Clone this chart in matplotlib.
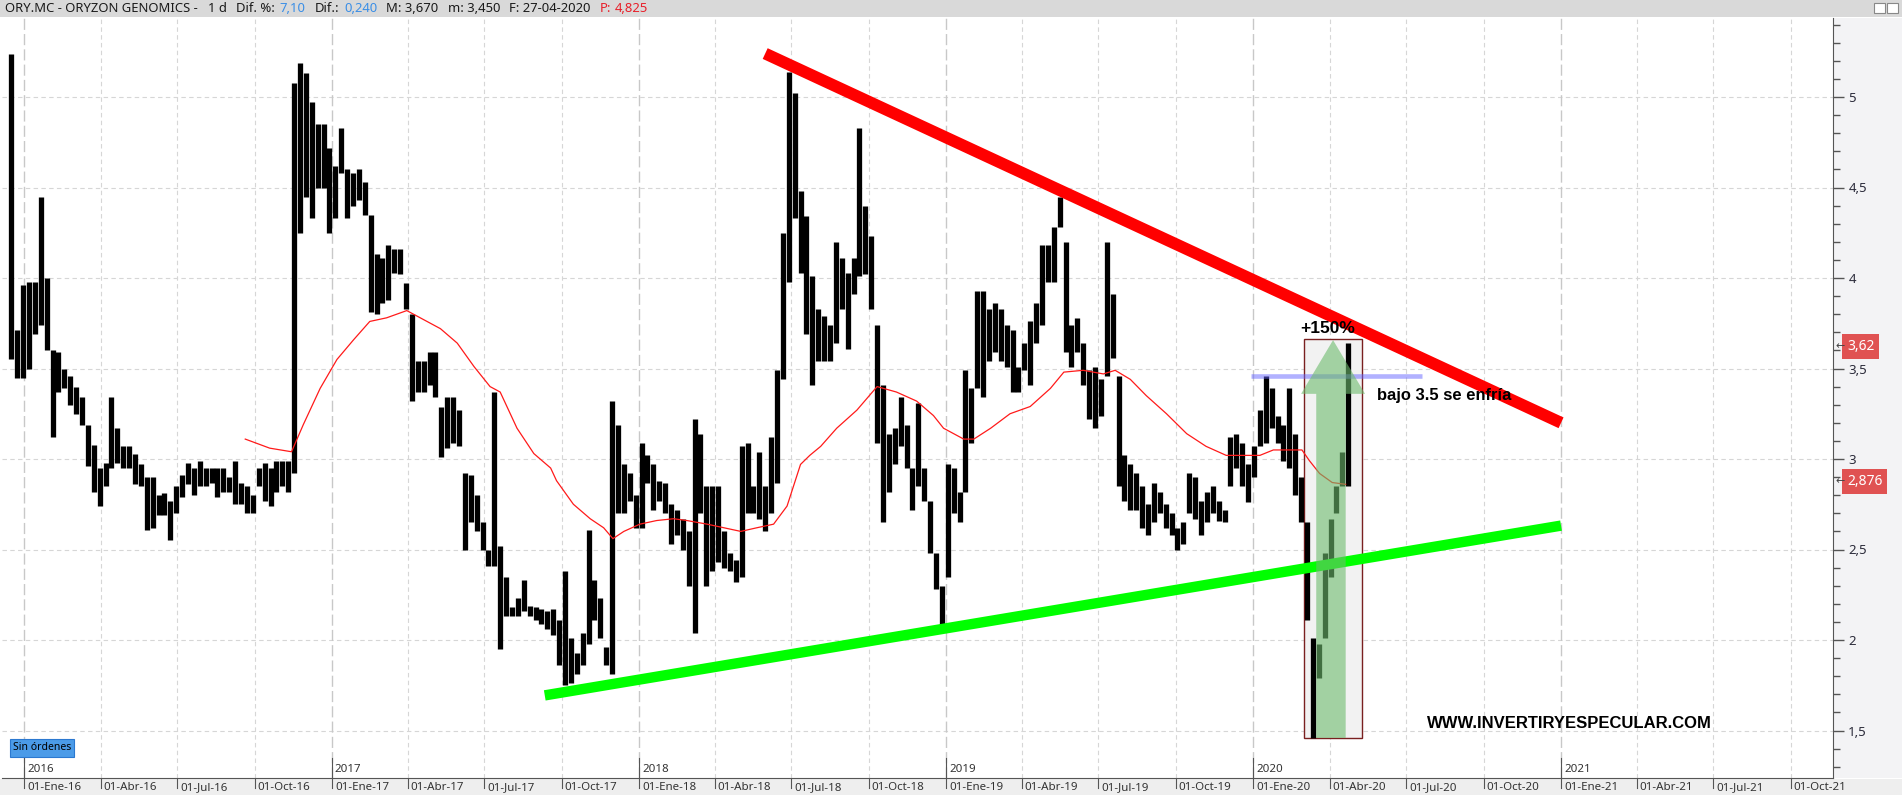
import numpy as np
import pandas as pd
import matplotlib
matplotlib.use("Agg")
import matplotlib.pyplot as plt
import matplotlib.dates as mdates
import matplotlib.transforms as mtransforms
from matplotlib.patches import Rectangle, Polygon

W, H = 1902, 795

# weekly high / low of ORY.MC, one entry per week starting 2015-12-14
first_week = "2015-12-14"
week_high = [
    5.24, 3.71, 3.96, 3.98, 3.98, 4.45, 4.00, 3.60, 3.59, 3.50,
    3.46, 3.40, 3.34, 3.19, 3.08, 2.95, 2.98, 3.34, 3.17, 3.07,
    3.07, 3.03, 2.97, 2.90, 2.90, 2.80, 2.81, 2.77, 2.85, 2.91,
    2.98, 2.95, 2.99, 2.95, 2.95, 2.95, 2.95, 2.90, 2.99, 2.87,
    2.85, 2.80, 2.95, 2.98, 2.95, 2.99, 2.99, 2.99, 5.08, 5.19,
    5.13, 4.97, 4.85, 4.85, 4.72, 4.62, 4.83, 4.60, 4.58, 4.60,
    4.53, 4.35, 4.13, 4.11, 4.18, 4.16, 4.16, 3.97, 3.80, 3.54,
    3.54, 3.59, 3.59, 3.29, 3.34, 3.34, 3.27, 2.92, 2.91, 2.80,
    2.65, 2.50, 3.37, 2.52, 2.35, 2.18, 2.23, 2.33, 2.19, 2.18,
    2.17, 2.16, 2.17, 2.11, 2.38, 2.01, 1.93, 2.04, 2.61, 2.33,
    2.23, 1.96, 3.32, 3.19, 2.97, 2.92, 2.80, 3.09, 3.02, 2.97,
    2.88, 2.87, 2.75, 2.72, 2.67, 2.60, 3.22, 3.14, 2.85, 2.85,
    2.85, 2.60, 2.48, 2.44, 3.07, 3.09, 2.85, 3.04, 2.85, 3.12,
    3.49, 4.25, 5.14, 5.02, 4.48, 4.34, 4.01, 3.83, 3.79, 3.74,
    4.20, 4.11, 4.03, 4.11, 4.83, 4.40, 4.23, 3.74, 3.41, 3.14,
    3.17, 3.34, 3.19, 2.95, 3.31, 2.95, 2.77, 2.48, 2.30, 2.97,
    2.95, 2.82, 3.49, 3.39, 3.93, 3.93, 3.83, 3.86, 3.83, 3.74,
    3.71, 3.51, 3.64, 3.76, 3.86, 4.18, 4.18, 4.28, 4.45, 4.20,
    3.74, 3.78, 3.64, 3.49, 3.51, 3.44, 4.20, 3.91, 3.46, 3.02,
    2.97, 2.92, 2.85, 2.75, 2.87, 2.82, 2.75, 2.70, 2.62, 2.65,
    2.92, 2.90, 2.77, 2.82, 2.85, 2.77, 2.72, 3.12, 3.14, 3.09,
    2.97, 3.07, 3.27, 3.46, 3.39, 3.24, 3.19, 3.39, 3.14, 2.90,
    2.65, 2.01, 1.98, 2.48, 2.67, 2.85, 3.04, 3.64,
]
week_low = [
    3.55, 3.45, 3.45, 3.50, 3.69, 3.74, 3.60, 3.12, 3.37, 3.39,
    3.30, 3.25, 3.19, 2.96, 2.82, 2.74, 2.85, 2.95, 2.98, 2.95,
    2.95, 2.86, 2.85, 2.61, 2.62, 2.69, 2.69, 2.55, 2.70, 2.79,
    2.86, 2.80, 2.85, 2.85, 2.87, 2.79, 2.82, 2.82, 2.75, 2.75,
    2.70, 2.70, 2.85, 2.77, 2.74, 2.82, 2.85, 2.82, 2.92, 4.25,
    4.45, 4.33, 4.50, 4.50, 4.25, 4.33, 4.58, 4.33, 4.40, 4.43,
    4.35, 3.81, 3.80, 3.86, 3.88, 4.03, 4.02, 3.83, 3.32, 3.37,
    3.37, 3.41, 3.34, 3.01, 3.06, 3.09, 3.07, 2.50, 2.65, 2.60,
    2.50, 2.41, 2.41, 1.95, 2.13, 2.13, 2.13, 2.16, 2.13, 2.11,
    2.09, 2.06, 2.03, 1.86, 1.75, 1.76, 1.81, 1.86, 1.98, 2.11,
    2.01, 1.86, 1.81, 2.70, 2.70, 2.77, 2.62, 2.62, 2.87, 2.72,
    2.77, 2.70, 2.53, 2.58, 2.50, 2.30, 2.04, 2.70, 2.30, 2.38,
    2.43, 2.40, 2.38, 2.32, 2.35, 2.70, 2.70, 2.67, 2.60, 2.70,
    2.87, 3.44, 3.98, 4.33, 4.03, 3.69, 3.41, 3.54, 3.54, 3.54,
    3.64, 3.83, 3.61, 3.91, 4.01, 4.02, 3.83, 3.09, 2.65, 2.82,
    2.97, 3.07, 2.95, 2.72, 2.85, 2.77, 2.48, 2.28, 2.08, 2.35,
    2.70, 2.65, 2.82, 3.09, 3.39, 3.34, 3.54, 3.59, 3.54, 3.51,
    3.37, 3.37, 3.49, 3.41, 3.64, 3.74, 3.98, 3.98, 4.28, 3.59,
    3.51, 3.59, 3.41, 3.22, 3.17, 3.24, 3.46, 3.56, 2.85, 2.77,
    2.72, 2.72, 2.62, 2.58, 2.65, 2.70, 2.62, 2.58, 2.50, 2.53,
    2.70, 2.67, 2.58, 2.65, 2.70, 2.66, 2.65, 2.85, 2.95, 2.85,
    2.76, 2.90, 3.07, 3.09, 3.17, 3.09, 2.99, 2.95, 2.80, 2.65,
    2.11, 1.46, 1.79, 2.01, 2.35, 2.70, 2.85, 2.85,
]

# moving average (red thin line): days after 2016-01-01 and value
ma_day = [263, 292, 318, 332, 352, 372, 392, 411, 431, 455, 475, 495, 515,
          535, 554, 566, 586, 606, 626, 633, 653, 673, 689, 700, 713, 732,
          752, 772, 788, 812, 832, 852, 871, 891, 907, 923, 934, 947, 966,
          990, 1014, 1037, 1061, 1081, 1093, 1117, 1129, 1149, 1172, 1196,
          1220, 1236, 1259, 1283, 1297, 1315, 1334, 1358, 1382, 1405, 1429,
          1453, 1469, 1485, 1501, 1519, 1528, 1540, 1555, 1571]
ma_value = [3.11, 3.06, 3.04, 3.19, 3.39, 3.55, 3.66, 3.76, 3.78, 3.82, 3.77,
            3.72, 3.64, 3.51, 3.40, 3.37, 3.17, 3.03, 2.95, 2.88, 2.75, 2.67,
            2.62, 2.56, 2.60, 2.64, 2.66, 2.67, 2.66, 2.64, 2.62, 2.60, 2.62,
            2.64, 2.74, 2.97, 3.02, 3.07, 3.17, 3.27, 3.40, 3.37, 3.32, 3.24,
            3.17, 3.11, 3.11, 3.17, 3.25, 3.29, 3.39, 3.48, 3.49, 3.47, 3.49,
            3.44, 3.35, 3.25, 3.14, 3.07, 3.02, 3.02, 3.02, 3.05, 3.05, 3.05,
            2.99, 2.92, 2.87, 2.86]

# drawn trend lines and marks
resist_dates = ["2018-05-31", "2021-01-01"]
resist_values = [5.24, 3.20]
support_dates = ["2017-09-11", "2021-01-01"]
support_values = [1.694, 2.632]
level_dates = ["2019-12-29", "2020-07-20"]
level_value = 3.46
last_price = 3.62
ma_last = 2.876

y_ticks = [1.5, 2, 2.5, 3, 3.5, 4, 4.5, 5]
month_es = {1: "Ene", 4: "Abr", 7: "Jul", 10: "Oct"}

plt.rcParams["font.family"] = ["Noto Sans", "DejaVu Sans"]

fig = plt.figure(figsize=(W / 100, H / 100), dpi=100)
fig.patch.set_facecolor("white")


def fx(px):
    return px / W


def fy(py):
    return 1 - py / H


ax_left, ax_right, ax_top, ax_bot = 2, 1833, 18, 778
ax = fig.add_axes([fx(ax_left), fy(ax_bot), fx(ax_right - ax_left), (ax_bot - ax_top) / H])
ax.set_facecolor("white")

base = mdates.date2num(pd.Timestamp("2016-01-01"))
px_per_day = 0.8413
ax.set_xlim(base - (24 - ax_left) / px_per_day, base + (ax_right - 24) / px_per_day)
ax.set_ylim(5 - (ax_bot - 97) / 181.0, 5 + (97 - ax_top) / 181.0)

# background panels (behind the axes)
fig.patches.append(Rectangle((fx(ax_right), fy(ax_bot)), 1 - fx(ax_right), (ax_bot - ax_top) / H,
                             transform=fig.transFigure, facecolor="#f3f3f5", edgecolor="none",
                             zorder=-2))
fig.patches.append(Rectangle((0, 0), 1, fy(ax_bot + 1), transform=fig.transFigure,
                             facecolor="#eeeeee", edgecolor="none", zorder=-2))
fig.patches.append(Rectangle((0, fy(17)), 1, 17 / H, transform=fig.transFigure,
                             facecolor="#d9d9d9", edgecolor="none", zorder=-2))

# grid
for v in y_ticks:
    ax.axhline(v, color="#d6d6d6", lw=0.8, ls=(0, (4, 3)), zorder=0.5)
quarters = pd.date_range("2016-01-01", "2021-10-01", freq="QS")
for q in quarters:
    if q.month == 1:
        ax.axvline(q, color="#c8c8c8", lw=1.0, ls=(0, (8, 3)), zorder=0.5)
    else:
        ax.axvline(q, color="#d6d6d6", lw=0.8, ls=(0, (4, 3)), zorder=0.5)

# study rectangle behind candles
rect_d0 = mdates.date2num(pd.Timestamp("2020-03-02"))
rect_d1 = mdates.date2num(pd.Timestamp("2020-05-09"))
ax.add_patch(Rectangle((rect_d0, 1.459), rect_d1 - rect_d0, 3.662 - 1.459,
                       facecolor="#f2f2f2", edgecolor="#7a2020", lw=1.0, zorder=1))

# weekly candles
week_x = pd.date_range(first_week, periods=len(week_high), freq="7D") + pd.Timedelta(days=3)
ax.vlines(week_x, week_low, week_high, colors="black", lw=3.8, zorder=2)

# moving average
ma_x = pd.Timestamp("2016-01-01") + pd.to_timedelta(ma_day, unit="D")
ax.plot(ma_x, ma_value, color="#ff1a1a", lw=0.9, zorder=3)

# trend lines
ax.plot(pd.to_datetime(resist_dates), resist_values, color="#ff0000", lw=8.5,
        solid_capstyle="butt", zorder=4)
ax.plot(pd.to_datetime(support_dates), support_values, color="#00ff00", lw=7.5,
        solid_capstyle="butt", zorder=4)
ax.plot(pd.to_datetime(level_dates), [level_value, level_value], color="#6464ff",
        alpha=0.5, lw=3.3, solid_capstyle="butt", zorder=5)

# green arrow
s0 = mdates.date2num(pd.Timestamp("2020-03-16"))
s1 = mdates.date2num(pd.Timestamp("2020-04-20"))
h0 = mdates.date2num(pd.Timestamp("2020-02-27"))
h1 = mdates.date2num(pd.Timestamp("2020-05-13"))
arrow_pts = [(s0, 1.459), (s1, 1.459), (s1, 3.36), (h1, 3.36), ((h0 + h1) / 2, 3.657),
             (h0, 3.36), (s0, 3.36)]
ax.add_patch(Polygon(arrow_pts, closed=True, facecolor="#6dbb6d", alpha=0.6,
                     edgecolor="none", zorder=5))

# annotations
bold = dict(family=["Liberation Sans", "DejaVu Sans"], fontweight="bold", color="black", zorder=6)
ax.text(pd.Timestamp("2020-03-30"), 3.72, "+150%", ha="center", va="center", fontsize=12.5, **bold)
ax.text(pd.Timestamp("2020-05-27"), 3.35, "bajo 3.5 se enfría", ha="left", va="center",
        fontsize=11.9, **bold)
ax.text(pd.Timestamp("2020-07-26"), 1.536, "WWW.INVERTIRYESPECULAR.COM", ha="left", va="center",
        fontsize=12, **bold)

# axes styling
for side in ["top", "left"]:
    ax.spines[side].set_visible(False)
ax.spines["right"].set_color("#555555")
ax.spines["bottom"].set_color("#555555")
ax.yaxis.tick_right()
ax.set_yticks(y_ticks)
ax.set_yticklabels([f"{v:g}".replace(".", ",") for v in y_ticks])
ax.set_yticks(np.arange(1.3, 5.45, 0.1), minor=True)
ax.tick_params(axis="y", which="major", length=8, width=1, color="#555555",
               labelsize=9.5, labelcolor="#2b2b3a", pad=3)
ax.tick_params(axis="y", which="minor", length=5, width=1, color="#555555")
ax.set_xticks([])
ax.set_xticks([], minor=True)

# date bar labels and year labels
date_tr = mtransforms.blended_transform_factory(ax.transData, fig.transFigure)
shift = mtransforms.ScaledTranslation(3 / 100, 0, fig.dpi_scale_trans)
for q in quarters:
    lab = f"01-{month_es[q.month]}-{q.strftime('%y')}"
    ax.plot([q, q], [fy(ax_bot + 1), fy(ax_bot + 10)], transform=date_tr, color="#555555",
            lw=0.8, clip_on=False)
    ax.text(q, fy(788), lab, transform=date_tr + shift, fontsize=8.3, color="#333333",
            ha="left", va="center", clip_on=False)
    if q.month == 1:
        ax.plot([q, q], [fy(ax_bot), fy(758)], transform=date_tr, color="#555555", lw=0.8,
                clip_on=False)
        ax.text(q, fy(769), q.strftime("%Y"), transform=date_tr + shift, fontsize=8.3,
                color="#333333", ha="left", va="center", clip_on=False)

# right-axis price flags
flag_tr = mtransforms.blended_transform_factory(fig.transFigure, ax.transData)
for val, txt in [(last_price, "3,62"), (ma_last, "2,876")]:
    fig.text(fx(1847), val, txt, transform=flag_tr, fontsize=10, color="white", ha="left",
             va="center",
             bbox=dict(boxstyle="square,pad=0.35", facecolor="#e05252", edgecolor="none"))
    fig.text(fx(1835), val, "←", transform=flag_tr, fontsize=8, color="#444444", ha="left",
             va="center")

# "Sin órdenes" tag
fig.text(fx(13), fy(748), "Sin órdenes", fontsize=7.5, color="black", ha="left", va="center",
         bbox=dict(boxstyle="square,pad=0.3", facecolor="#4b9be8", edgecolor="#2b78d0", lw=0.8))

# header line with coloured pieces
dark, blue, red = "#1a1a1a", "#3a8ee6", "#e8202a"
header_parts = [
    ("ORY.MC - ORYZON GENOMICS -", dark, 0),
    ("1 d", dark, 10),
    ("Dif. %:", dark, 9),
    ("7,10", blue, 5),
    ("Dif.:", dark, 9),
    ("0,240", blue, 5),
    ("M: 3,670", dark, 9),
    ("m: 3,450", dark, 9),
    ("F: 27-04-2020", dark, 9),
    ("P:", red, 9),
    ("4,825", red, 4),
]
renderer = fig.canvas.get_renderer()
xpos = 5
for txt, col, gap in header_parts:
    xpos += gap
    t = fig.text(fx(xpos), fy(9), txt, fontsize=9.4, color=col, ha="left", va="center")
    bb = t.get_window_extent(renderer)
    xpos = bb.x1

# window buttons at top right
for bx in [1874, 1887]:
    fig.patches.append(Rectangle((fx(bx), fy(13)), 11 / W, 10 / H, transform=fig.transFigure,
                                 facecolor="white", edgecolor="#888888", lw=0.8, zorder=-1))

fig.savefig("out.png", dpi=100)
